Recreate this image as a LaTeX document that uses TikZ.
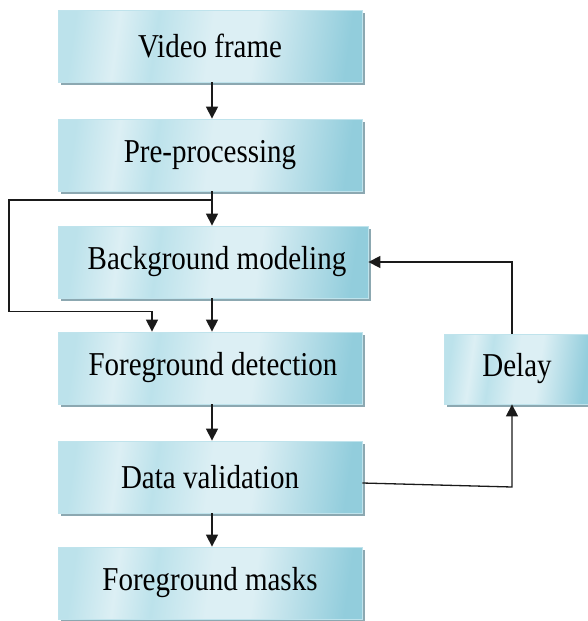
\documentclass[tikz,border=0pt]{standalone}
\usepackage{fontspec}
\setmainfont{Liberation Serif}
\usetikzlibrary{arrows.meta,shadows,calc}
\definecolor{boxdark}{HTML}{92CDDC}
\definecolor{boxmid}{HTML}{BCE2EB}
\definecolor{boxlight}{HTML}{DCEFF4}
\definecolor{boxedge}{HTML}{BFE3EC}
\definecolor{shadowc}{HTML}{7F9FA8}
\definecolor{linec}{HTML}{1A1A1A}
% soft fill used by every stage box (box spans 25bp..75bp)
\pgfdeclarehorizontalshading{stagefill}{100bp}{%
  color(0bp)=(boxmid); color(25bp)=(boxmid); color(33bp)=(boxlight);
  color(40bp)=(boxmid); color(50bp)=(boxlight); color(58bp)=(boxlight);
  color(75bp)=(boxdark); color(100bp)=(boxdark)}
\tikzset{
  stage/.style={rectangle, minimum width=304pt, minimum height=72pt,
    inner sep=0pt, draw=boxedge, line width=0.8pt,
    shading=stagefill, shading angle=-8,
    drop shadow={shadow xshift=2.5pt, shadow yshift=-3pt, fill=shadowc, opacity=0.9},
    font=\fontsize{29}{32}\selectfont},
  arr/.style={draw=linec, line width=1.3pt,
    -{Triangle[length=12pt,width=12pt]}}
}
\newcommand{\lbl}[1]{\scalebox{1}[1.15]{#1}}
\begin{document}
\begin{tikzpicture}[x=1pt,y=-1pt]
\useasboundingbox (0,0) rectangle (587,621);

% main processing chain
\node[stage] (vf) at (210,46)  {\lbl{Video frame}};
\node[stage] (pp) at (210,155) {\lbl{Pre-processing}};
\node[stage, minimum width=310pt] (bg) at (213,262) {\lbl{\hspace{8pt}Background modeling}};
\node[stage] (fg) at (210,368) {\lbl{\hspace{6pt}Foreground detection}};
\node[stage] (dv) at (210,477) {\lbl{Data validation}};
\node[stage] (fm) at (210,583) {\lbl{Foreground masks}};

% feedback delay block
\node[stage, minimum width=146pt, minimum height=70pt] (dl) at (517,369) {\lbl{Delay}};

% vertical flow
\draw[arr] (vf.south -| 212,0) -- (pp.north -| 212,0);
\draw[arr] (pp.south -| 212,0) -- (bg.north -| 212,0);
\draw[arr] (bg.south -| 212,0) -- (fg.north -| 212,0);
\draw[arr] (fg.south -| 212,0) -- (dv.north -| 212,0);
\draw[arr] (dv.south -| 212,0) -- (fm.north -| 212,0);

% bypass from pre-processing output to foreground detection
\coordinate (split) at (212,200);
\draw[arr] (split) -- ++(-203,0) |- ([shift={(-58pt,20pt)}]fg.north) -- ([xshift=-58pt]fg.north);

% feedback loop through the delay
\draw[arr] ([yshift=-6pt]dv.east) -- ([xshift=-5pt,yshift=-10pt]dl.south |- dv.east) -- ([xshift=-5pt]dl.south);
\draw[arr] ([xshift=-5pt]dl.north) |- (bg.east);
\end{tikzpicture}
\end{document}
